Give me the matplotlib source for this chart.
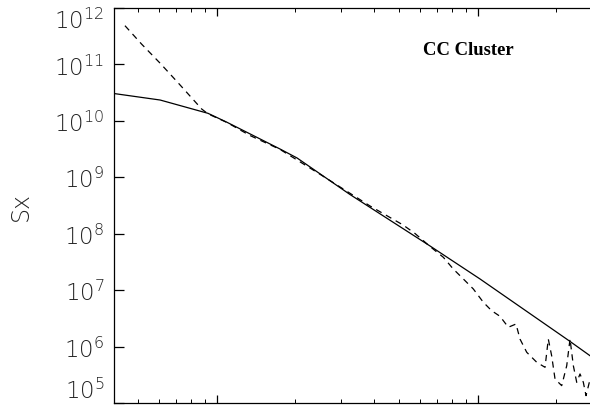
import matplotlib
matplotlib.use("Agg")
import matplotlib.pyplot as plt
from matplotlib.ticker import LogLocator, NullFormatter, FixedLocator

plt.rcParams['mathtext.fontset'] = 'custom'
plt.rcParams['mathtext.rm'] = 'DejaVu Sans:weight=light'
plt.rcParams['mathtext.it'] = 'DejaVu Sans:weight=light'
plt.rcParams['font.family'] = ['DejaVu Sans']

# Model (solid) surface brightness profile
model_r = [0.0404, 0.0607, 0.0926, 0.1095, 0.1748, 0.2031, 0.3241, 0.6566, 1.020, 2.238, 2.693]
model_sx = [3.05e10, 2.34e10, 1.36e10, 9.43e9, 3.17e9, 2.20e9, 4.95e8, 6.06e7, 1.58e7, 1.27e6, 6.89e5]

# Simulated (dashed) profile
sim_r = [0.0445, 0.0515, 0.0607, 0.0712, 0.0805, 0.0876, 0.0926, 0.1095, 0.1341, 0.1748,
         0.2488, 0.3867, 0.5173, 0.5749, 0.6566, 0.7384, 0.806, 0.8806, 0.9618, 1.051,
         1.131, 1.217, 1.310, 1.402, 1.452, 1.541, 1.683, 1.811, 1.864, 1.920, 1.978,
         2.098, 2.193, 2.258, 2.325, 2.395, 2.466, 2.539, 2.600, 2.677]
sim_sx = [4.86e11, 2.3e11, 1.05e11, 4.7e10, 2.5e10, 1.62e10, 1.33e10, 9.35e9, 5.5e9, 3.12e9,
          1.13e9, 3.10e8, 1.43e8, 1.01e8, 5.94e7, 3.82e7, 2.37e7, 1.58e7, 1.05e7, 6.09e6,
          4.32e6, 3.44e6, 2.20e6, 2.51e6, 1.36e6, 7.92e5, 5.27e5, 4.29e5, 1.36e6, 6.89e5, 2.66e5,
          2.03e5, 4.58e5, 1.36e6, 4.58e5, 2.33e5, 3.27e5, 2.33e5, 1.35e5, 2.33e5]

ytick_vals = [1e5, 1e6, 1e7, 1e8, 1e9, 1e10, 1e11, 1e12]
ytick_labels = ['$10^{5}$', '$10^{6}$', '$10^{7}$', '$10^{8}$', '$10^{9}$', '$10^{10}$', '$10^{11}$', '$10^{12}$']

fig = plt.figure(figsize=(5.9, 4.06), dpi=100)
ax = fig.add_axes([114/590, 2/406, 1 - 114/590, 395/406])
ax.plot(model_r, model_sx, color='black', lw=0.9)
ax.plot(sim_r, sim_sx, color='black', lw=0.9, dashes=(5, 4))
ax.set_xscale('log')
ax.set_yscale('log')
ax.set_xlim(0.0404, 2.693)
ax.set_ylim(1e5, 1e12)

ax.spines['right'].set_visible(False)
for s in ax.spines.values():
    s.set_linewidth(0.9)

ax.yaxis.set_major_locator(FixedLocator(ytick_vals))
ax.set_yticklabels(ytick_labels)
ax.yaxis.set_minor_locator(FixedLocator([]))
ax.tick_params(axis='y', which='major', direction='in', length=7.5, width=0.9,
               labelsize=16.5, pad=7, colors='black', labelcolor='#222222', right=False)
ax.xaxis.set_major_locator(LogLocator(base=10))
ax.xaxis.set_minor_locator(LogLocator(base=10, subs=range(2, 10)))
ax.xaxis.set_major_formatter(NullFormatter())
ax.xaxis.set_minor_formatter(NullFormatter())
ax.tick_params(axis='x', which='major', direction='in', length=6, width=0.9, top=True)
ax.tick_params(axis='x', which='minor', direction='in', length=3, width=0.7, top=True)

for lab in ax.get_yticklabels():
    if lab.get_text() == '$10^{5}$':
        lab.set_verticalalignment('bottom')
    if lab.get_text() == '$10^{12}$':
        lab.set_verticalalignment('top')

ax.set_ylabel('Sx', fontsize=17, labelpad=15, color='#222222', fontweight='light')

ax.text(0.744, 0.896, 'CC Cluster', transform=ax.transAxes, fontsize=13.4,
        fontweight='bold', family='Liberation Serif', ha='center', va='center')

fig.savefig('out.png', dpi=100)
